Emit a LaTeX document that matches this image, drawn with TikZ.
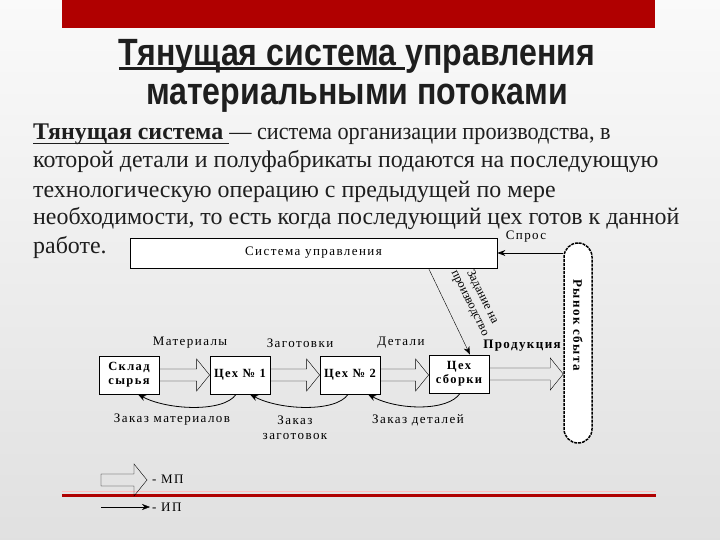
\documentclass[tikz,border=0pt]{standalone}
\usepackage{fontspec}
\setmainfont{Liberation Serif}
\newfontfamily\titlefont{Liberation Sans}[FakeStretch=0.845]
\newfontfamily\diagfont{Liberation Serif}[LetterSpace=11]
\usetikzlibrary{arrows.meta,calc}

\definecolor{slidered}{RGB}{176,0,0}
\definecolor{inkgray}{RGB}{30,30,30}

% underline drawn with a rule of our own (thickness as option)
\newcommand{\undl}[2][2pt]{\setbox0\hbox{#2}\rlap{\rule[-4pt]{\wd0}{#1}}\box0}

\tikzset{
  lbl/.style={inner sep=1pt, font=\diagfont\fontsize{13}{15}\selectfont},
  box/.style={draw, thick, fill=white, minimum width=60pt, minimum height=38pt,
    align=center, inner sep=1pt, font=\diagfont\bfseries\fontsize{12.5}{14}\selectfont},
  txt/.style={anchor=base west, inner sep=0pt, text=inkgray, font=\fontsize{23.9}{28}\selectfont},
  ip/.style={thick, -{Stealth[length=8pt,width=6pt]}},
  % hollow block arrow of the material flow
  mp/.style={thin, to path={let \p1=(\tikztostart), \p2=(\tikztotarget) in
    (\x1,\y1+6pt) -- (\x2-13pt,\y1+6pt) -- (\x2-13pt,\y1+16pt) -- (\x2,\y1)
    -- (\x2-13pt,\y1-16pt) -- (\x2-13pt,\y1-6pt) -- (\x1,\y1-6pt) -- cycle}},
}

\begin{document}
\begin{tikzpicture}[x=1pt, y=-1pt]
  % фон и полосы слайда
  \shade[top color=gray!4, bottom color=gray!24] (0,0) rectangle (720,540);
  \useasboundingbox (0,0) rectangle (720,540);
  \fill[slidered] (62,0) rectangle (655,28);
  \draw[red!25, line width=1pt] (62,491.5) -- (656,491.5);
  \draw[slidered, line width=3pt] (62,495) -- (656,495);

  % заголовок
  \node[anchor=base, inner sep=0pt, text=inkgray, font=\titlefont\bfseries\fontsize{38}{40}\selectfont]
    (title1) at (357,66) {\undl[2.5pt]{Тянущая система }управления};
  \node[anchor=base, inner sep=0pt, text=inkgray, font=\titlefont\bfseries\fontsize{38}{40}\selectfont]
    (title2) at (357,105) {материальными потоками};

  % определение
  \node[txt] (p1) at (33,140) {\undl[1.2pt]{\bfseries Тянущая система }\scalebox{0.93}[1]{— система организации производства, в}};
  \node[txt] (p2) at (33,168) {которой детали и полуфабрикаты подаются на последующую};
  \node[txt] (p3) at (33,197) {технологическую операцию с предыдущей по мере};
  \node[txt] (p4) at (33,225) {необходимости, то есть когда последующий цех готов к данной};
  \node[txt] (p5) at (33,253) {работе.};

  % схема
  \node[draw, thick, fill=white, minimum width=367pt, minimum height=30pt, lbl] (sys) at (313.5,253) {Система управления};
  \node[draw, line width=1.5pt, dash pattern=on 3pt off 1pt, fill=white, rounded corners=14pt,
    minimum width=28pt, minimum height=200pt] (rynok) at (578,343) {};
  \node[lbl, rotate=-90, font=\diagfont\bfseries\fontsize{13}{15}\selectfont] (rynoklbl) at ([yshift=18pt]rynok.center) {Рынок сбыта};

  \node[box] (sklad) at (129,375) {Склад\\сырья};
  \node[box] (ceh1) at (240,375) {Цех № 1};
  \node[box] (ceh2) at (350,375) {Цех № 2};
  \node[box] (sborka) at (459,374) {Цех\\сборки};

  % материальные потоки
  \draw[mp] (sklad.east) to (ceh1.west);
  \draw[mp] (ceh1.east) to (ceh2.west);
  \draw[mp] (ceh2.east) to (sborka.west);
  \draw[mp] (sborka.east) to (rynok.west |- sborka.east);

  \node[lbl] (mat) at (190,343) {Материалы};
  \node[lbl] (zag) at (300,343) {Заготовки};
  \node[lbl] (det) at (401,343) {Детали};
  \node[lbl, font=\diagfont\bfseries\fontsize{13}{15}\selectfont] (prod) at (522,346) {Продукция};

  % информационные потоки
  \draw[ip] (rynok.west |- sys.east) -- (sys.east);
  \node[lbl] (spros) at (526,237) {Спрос};
  \draw[ip, thin] (sborka.west |- sys.south) -- ([xshift=11pt]sborka.north);
  \node[inner sep=1pt, rotate=-63.7, align=center, font=\fontsize{12.5}{14}\selectfont]
    (zad) at (476,300) {Задание на\\производство};

  \draw[ip] ([xshift=-4pt]ceh1.south) .. controls +(-12,18) and +(30,16) .. ([xshift=9pt]sklad.south);
  \draw[ip] ([xshift=-2pt]ceh2.south) .. controls +(-12,18) and +(30,16) .. ([xshift=10pt]ceh1.south);
  \draw[ip] ([xshift=1pt]sborka.south) .. controls +(-12,18) and +(30,16) .. ([xshift=18pt]ceh2.south);

  \node[lbl] (zmat) at (172,420) {Заказ материалов};
  \node[lbl, align=center] (zzag) at (295,428) {Заказ\\заготовок};
  \node[lbl] (zdet) at (418,420) {Заказ деталей};

  % обозначения
  \coordinate (mpa) at (101,480);
  \coordinate (mpb) at (147,480);
  \draw[mp] (mpa) to (mpb);
  \node[lbl, anchor=west] (mpl) at (151,479) {- МП};
  \coordinate (ipa) at (101,507);
  \coordinate (ipb) at (150,507);
  \draw[ip, thin] (ipa) -- (ipb);
  \node[lbl, anchor=west] (ipl) at (151,507) {- ИП};
\end{tikzpicture}
\end{document}
